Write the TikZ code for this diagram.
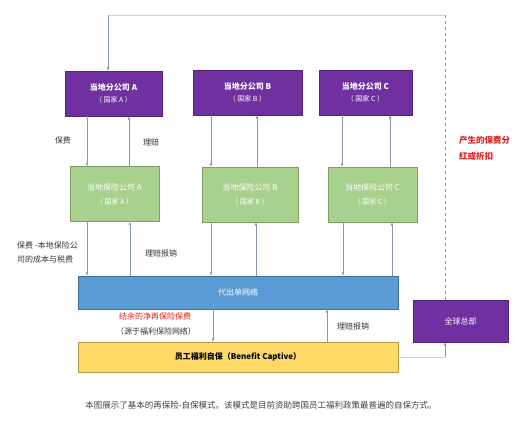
\documentclass[tikz,border=0pt]{standalone}
\usepackage{fontspec}
\setmainfont{Noto Sans CJK SC}
\usetikzlibrary{arrows.meta}
\definecolor{filial}{HTML}{7030A0}
\definecolor{strah}{HTML}{A9D18E}
\definecolor{setblue}{HTML}{5B9BD5}
\definecolor{kaptiv}{HTML}{FFD966}
\definecolor{linia}{HTML}{8A98AC}
\definecolor{blednaya}{HTML}{C9D1DB}
\definecolor{krasn}{HTML}{E02020}
\newcommand\dvestroki[3]{#1\\[#3]{\fontsize{7}{8}\selectfont\mdseries #2}}

\begin{document}
\begin{tikzpicture}[x=1pt, y=-1pt,
    filialbox/.style={draw=filial!75!black, fill=filial, text=white, minimum width=#1,
        minimum height=45pt, inner sep=0pt, align=center, font=\fontsize{8}{10}\selectfont\bfseries},
    strahbox/.style={draw=strah!75!black, fill=strah, text=white, minimum width=#1,
        minimum height=55pt, inner sep=0pt, align=center, font=\fontsize{8}{10}\selectfont},
    polosa/.style={draw=#1!70!black, fill=#1, minimum width=320pt, inner sep=0pt,
        font=\fontsize{8}{10}\selectfont},
    arr/.style={draw=linia, line width=.6pt, -{Latex[length=3.5pt,width=3pt]}},
    podpis/.style={inner sep=0pt, font=\fontsize{8}{11}\selectfont, text=black!80}]
    \useasboundingbox (0,0) rectangle (523,432);

    % Дочерние компании
    \node[filialbox=97pt] (fa) at (113.5,93.5) {\dvestroki{当地分公司 A}{（ 国家 A ）}{2pt}};
    \node[filialbox=109pt] (fb) at (247.5,92.5) {\dvestroki{当地分公司 B}{（ 国家 B ）}{2pt}};
    \node[filialbox=93pt] (fc) at (365.5,92.5) {\dvestroki{当地分公司 C}{（ 国家 C ）}{2pt}};

    % Местные страховщики
    \node[strahbox=89pt] (sa) at (114.5,194) {\dvestroki{当地保险公司 A}{（ 国家 A ）}{4pt}};
    \node[strahbox=96pt] (sb) at (250,194.5) {\dvestroki{当地保险公司 B}{（ 国家 B ）}{4pt}};
    \node[strahbox=89pt] (sc) at (372.5,194.5) {\dvestroki{当地保险公司 C}{（ 国家 C ）}{4pt}};

    % Сеть и кэптив
    \node[polosa=setblue, minimum height=33pt, text=white] (net) at (238,292.5) {代出单网络};
    \node[polosa=kaptiv, minimum height=30pt, font=\fontsize{8}{10}\selectfont\bfseries] (kap) at (238,357)
        {员工福利自保（Benefit Captive）};
    \node[draw=filial!75!black, fill=filial, text=white, minimum width=95pt, minimum height=42pt,
        inner sep=0pt, font=\fontsize{8}{10}\selectfont] (hq) at (460.5,321) {全球总部};

    % Стрелки между рядами
    \draw[arr] (fa.south -| 87,0) -- (sa.north -| 87,0);
    \draw[arr] (sa.north -| 129,0) -- (fa.south -| 129,0);
    \draw[arr] (fb.south -| 211,0) -- (sb.north -| 211,0);
    \draw[arr] (sb.north -| 257,0) -- (fb.south -| 257,0);
    \draw[arr] (fc.south -| 342,0) -- (sc.north -| 342,0);
    \draw[arr] (sc.north -| 390,0) -- (fc.south -| 390,0);

    \draw[arr] (sa.south -| 87,0) -- (net.north -| 87,0);
    \draw[arr] (net.north -| 130,0) -- (sa.south -| 130,0);
    \draw[arr] (sb.south -| 211,0) -- (net.north -| 211,0);
    \draw[arr] (net.north -| 256,0) -- (sb.south -| 256,0);
    \draw[arr] (sc.south -| 343,0) -- (net.north -| 343,0);
    \draw[arr] (net.north -| 392,0) -- (sc.south -| 392,0);

    \draw[arr] (net.south -| 213,0) -- (kap.north -| 213,0);
    \draw[arr] (kap.north -| 327,0) -- (net.south -| 327,0);

    % Возврат через головной офис
    \coordinate (ugol1) at (108,15);
    \coordinate (ugol2) at (445,15);
    \coordinate (ugol3) at (445,357);
    \draw[blednaya, line width=.7pt] (kap.east) -- (ugol3);
    \draw[arr] (ugol3) -- (hq.south -| ugol3);
    \draw[linia, line width=.6pt, dashed] (hq.north -| ugol2) -- (ugol2);
    \draw[blednaya, line width=.7pt] (ugol2) -- (ugol1);
    \draw[arr] (ugol1) -- (fa.north -| ugol1);

    % Подписи
    \node[podpis] (l1) at (63,140) {保费};
    \node[podpis, anchor=west] (l2) at (143,142) {理赔};
    \node[podpis, anchor=north west, align=left, font=\fontsize{8}{14}\selectfont] (l3) at (17,242)
        {保费 -本地保险公\\司的成本与税费};
    \node[podpis] (l4) at (161,253) {理赔报销};
    \node[podpis, text=krasn] (l5) at (155,316) {结余的净再保险保费};
    \node[podpis] (l6) at (156,331) {（源于福利保险网络）};
    \node[podpis] (l7) at (353,326) {理赔报销};
    \node[podpis, anchor=north west, align=left, text=krasn, font=\fontsize{8.5}{16}\selectfont\bfseries] (l8)
        at (459,136) {产生的保费分\\红或折扣};
    \node[podpis, text=black!75, font=\fontsize{8.5}{11}\selectfont] (l9) at (261,405)
        {本图展示了基本的再保险-自保模式。该模式是目前资助跨国员工福利政策最普遍的自保方式。};
\end{tikzpicture}
\end{document}
